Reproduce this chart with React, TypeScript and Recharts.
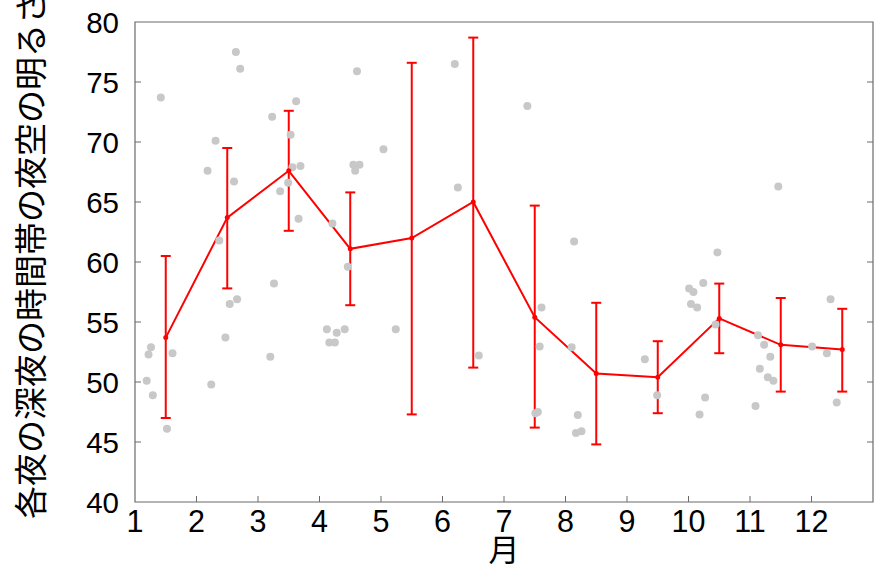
import { ComposedChart, Scatter, Line, ErrorBar, XAxis, YAxis, ReferenceArea } from 'recharts';

// monthly summary (center of each month bin)
const monthCenters = [1.5, 2.5, 3.5, 4.5, 5.5, 6.5, 7.5, 8.5, 9.5, 10.5, 11.5, 12.5];
const monthMeans = [53.7, 63.7, 67.6, 61.1, 62.0, 65.0, 55.4, 50.7, 50.4, 55.3, 53.1, 52.7];
const monthLows = [47.0, 57.8, 62.6, 56.4, 47.3, 51.2, 46.2, 44.8, 47.4, 52.4, 49.2, 49.2];
const monthHighs = [60.5, 69.5, 72.6, 65.8, 76.6, 78.7, 64.7, 56.6, 53.4, 58.2, 57.0, 56.1];

// individual nights
const nightX = [
  1.19, 1.22, 1.26, 1.29, 1.42, 1.52, 1.61,
  2.18, 2.24, 2.31, 2.37, 2.47, 2.54, 2.61, 2.64, 2.66, 2.71,
  3.2, 3.23, 3.26, 3.36, 3.49, 3.53, 3.56, 3.62, 3.66, 3.69,
  4.12, 4.16, 4.21, 4.25, 4.28, 4.41, 4.46, 4.55, 4.58, 4.61, 4.65,
  5.04, 5.24,
  6.2, 6.25, 6.59,
  7.38, 7.51, 7.55, 7.58, 7.61,
  8.1, 8.14, 8.17, 8.2, 8.26,
  9.29, 9.49,
  10.01, 10.04, 10.08, 10.14, 10.18, 10.24, 10.27, 10.44, 10.47,
  11.09, 11.13, 11.16, 11.23, 11.29, 11.33, 11.38, 11.46,
  12.01, 12.25, 12.31, 12.41,
];
const nightY = [
  50.1, 52.3, 52.9, 48.9, 73.7, 46.1, 52.4,
  67.6, 49.8, 70.1, 61.8, 53.7, 56.5, 66.7, 77.5, 56.9, 76.1,
  52.1, 72.1, 58.2, 65.9, 66.6, 70.6, 67.9, 73.4, 63.6, 68.0,
  54.4, 53.3, 63.2, 53.3, 54.1, 54.4, 59.6, 68.1, 67.6, 75.9, 68.1,
  69.4, 54.4,
  76.5, 66.2, 52.2,
  73.0, 47.4, 47.5, 52.95, 56.2,
  52.9, 61.7, 45.75, 47.25, 45.9,
  51.9, 48.9,
  57.8, 56.5, 57.5, 56.2, 47.3, 58.25, 48.7, 54.8, 60.8,
  48.0, 53.9, 51.1, 53.1, 50.4, 52.1, 50.1, 66.3,
  52.95, 52.4, 56.9, 48.3,
];

const xTicks = [1, 2, 3, 4, 5, 6, 7, 8, 9, 10, 11, 12];
const yTicks = [40, 45, 50, 55, 60, 65, 70, 75, 80];

const nights = nightX.map((x, i) => ({ x, y: nightY[i] }));
const months = monthCenters.map((x, i) => ({
  x,
  mean: monthMeans[i],
  err: [monthMeans[i] - monthLows[i], monthHighs[i] - monthMeans[i]],
}));

const W = 881;
const H = 574;
const MARGIN = { top: 22, right: 8, left: 0, bottom: 0 };
const Y_AXIS_W = 135;
const X_AXIS_H = 72;
const PLOT_W = W - MARGIN.right - Y_AXIS_W;
const Y_GAP = 16;
const X_GAP = 3;
const FRAME = '#6b6b6b';
const TICK_FONT = "'Liberation Sans', Arial, sans-serif";
const CJK_FONT = "'Noto Sans CJK JP', 'Noto Sans CJK SC', sans-serif";

function YTick(props: any) {
  const { x, y, payload } = props;
  const ax = x + Y_GAP;
  const inner = payload.value !== 40 && payload.value !== 80;
  return (
    <g>
      {inner && <line x1={ax} x2={ax + 6} y1={y} y2={y} stroke={FRAME} />}
      {inner && <line x1={ax + PLOT_W} x2={ax + PLOT_W - 6} y1={y} y2={y} stroke={FRAME} />}
      <text x={x} y={y} textAnchor="end" dominantBaseline="central" fontFamily={TICK_FONT} fontSize={29.5} fill="#000">
        {payload.value}
      </text>
    </g>
  );
}

function XTick(props: any) {
  const { x, y, payload } = props;
  const ay = y - X_GAP;
  return (
    <g>
      {payload.value !== 1 && <line x1={x} x2={x} y1={ay} y2={ay - 6} stroke={FRAME} />}
      <text x={x} y={y} dy="0.9em" textAnchor="middle" fontFamily={TICK_FONT} fontSize={30.5} fill="#000">
        {payload.value}
      </text>
    </g>
  );
}

export default function App() {
  return (
    <div style={{ position: 'absolute', left: 0, top: 0, background: '#fff' }}>
      <ComposedChart width={W} height={H} margin={MARGIN}>
        <XAxis
          type="number"
          dataKey="x"
          domain={[1, 13]}
          ticks={xTicks}
          allowDataOverflow
          height={X_AXIS_H}
          tickSize={0}
          tickMargin={X_GAP}
          axisLine={false}
          tickLine={false}
          tick={<XTick />}
          label={{
            content: (p: any) => {
              const vb = p.viewBox;
              return (
                <text x={vb.x + vb.width / 2} y={547} textAnchor="middle" dominantBaseline="central" fontFamily={CJK_FONT} fontSize={31} fill="#000">
                  月
                </text>
              );
            },
          }}
        />
        <YAxis
          type="number"
          domain={[40, 80]}
          ticks={yTicks}
          allowDataOverflow
          width={Y_AXIS_W}
          tickSize={0}
          tickMargin={Y_GAP}
          axisLine={false}
          tickLine={false}
          tick={<YTick />}
          label={{
            content: (p: any) => {
              const vb = p.viewBox;
              const cy = vb.y + vb.height / 2 - 7;
              return (
                <text x={29} y={cy} transform={`rotate(-90, 29, ${cy})`} textAnchor="middle" dominantBaseline="central" fontFamily={CJK_FONT} fontSize={33} fill="#000">
                  各夜の深夜の時間帯の夜空の明るさ
                </text>
              );
            },
          }}
        />
        <Scatter data={nights} dataKey="y" fill="#c8c8c8" isAnimationActive={false} shape={(p: any) => <circle cx={p.cx} cy={p.cy} r={4} fill="#c8c8c8" />} />
        <Line
          data={months}
          dataKey="mean"
          stroke="#ff0000"
          strokeWidth={2}
          dot={{ r: 2.5, fill: '#ff0000', stroke: '#ff0000', strokeWidth: 0 }}
          isAnimationActive={false}
        >
          <ErrorBar dataKey="err" direction="y" width={5} stroke="#ff0000" strokeWidth={2} />
        </Line>
        <ReferenceArea x1={1} x2={13} y1={40} y2={80} fill="none" stroke={FRAME} strokeWidth={1.2} ifOverflow="visible" />
      </ComposedChart>
    </div>
  );
}
